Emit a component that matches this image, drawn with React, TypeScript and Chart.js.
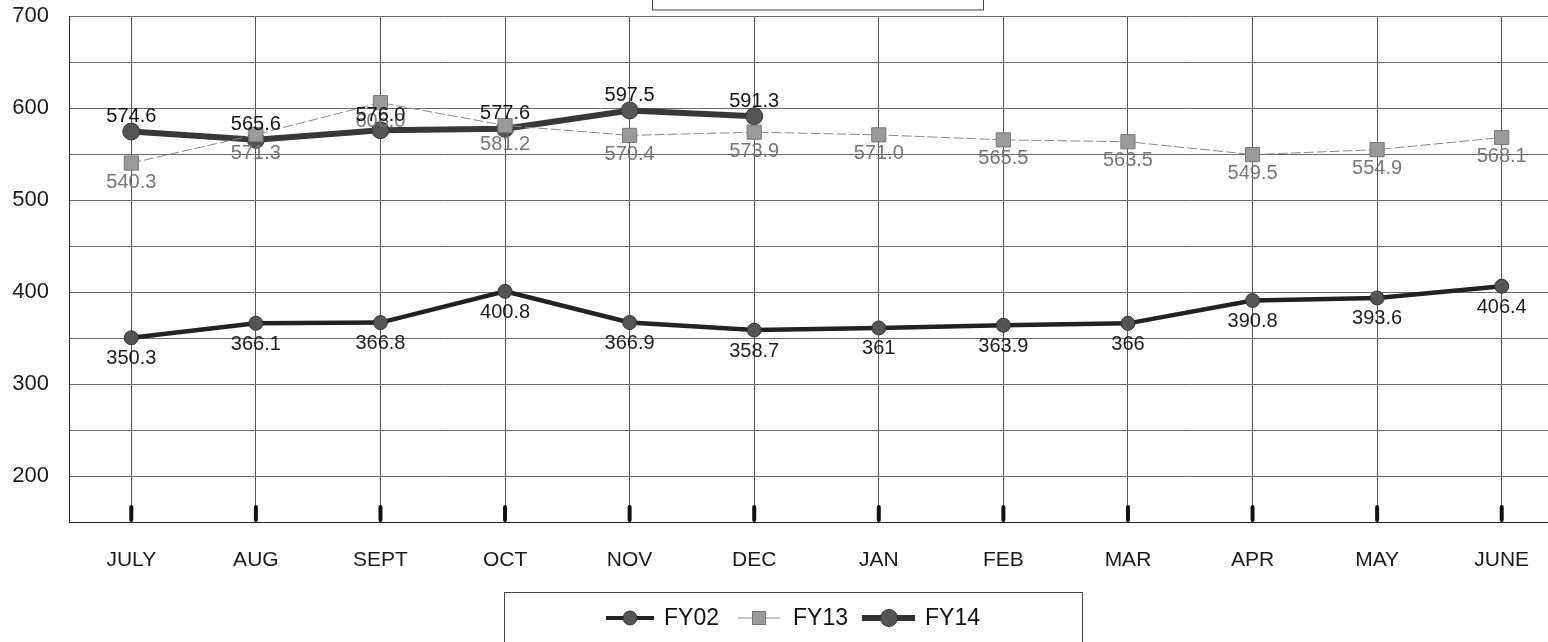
import React, { useEffect, useRef } from "react";
import { Chart, registerables } from "chart.js";

Chart.register(...registerables);

const months = ["JULY", "AUG", "SEPT", "OCT", "NOV", "DEC", "JAN", "FEB", "MAR", "APR", "MAY", "JUNE"];
const fy02 = [350.3, 366.1, 366.8, 400.8, 366.9, 358.7, 361, 363.9, 366, 390.8, 393.6, 406.4];
const fy13 = [540.3, 571.3, 606.0, 581.2, 570.4, 573.9, 571.0, 565.5, 563.5, 549.5, 554.9, 568.1];
const fy14 = [574.6, 565.6, 576.0, 577.6, 597.5, 591.3, null, null, null, null, null, null];
const seriesNames = ["FY02", "FY13", "FY14"];
const yTickLabels = [200, 300, 400, 500, 600, 700];

const FONT = "'Liberation Sans', Arial, Helvetica, sans-serif";

const SHIFT = 17;
const W = 1575;
const H = 642 + SHIFT;

const labelPlugin = {
  id: "valueLabels",
  afterDatasetsDraw(chart: any) {
    const ctx = chart.ctx;
    ctx.save();
    ctx.textAlign = "center";
    ctx.textBaseline = "middle";
    const cfg = [
      { dy: 21, color: "#1e1e1e", fmt: (v: number) => String(v) },
      { dy: 19, color: "#777", fmt: (v: number) => v.toFixed(1) },
      { dy: -15, color: "#141414", fmt: (v: number) => v.toFixed(1) },
    ];
    chart.data.datasets.forEach((ds: any, i: number) => {
      const meta = chart.getDatasetMeta(i);
      const c = cfg[i];
      ctx.fillStyle = c.color;
      ctx.font = `20px ${FONT}`;
      meta.data.forEach((pt: any, j: number) => {
        const v = ds.data[j];
        if (v === null || v === undefined) return;
        ctx.fillText(c.fmt(v), pt.x, pt.y + c.dy);
      });
    });
    ctx.restore();
  },
};

const decorPlugin = {
  id: "decor",
  beforeDatasetsDraw(chart: any) {
    const ctx = chart.ctx;
    const x = chart.scales.x;
    const area = chart.chartArea;
    ctx.save();
    ctx.strokeStyle = "#111";
    ctx.lineWidth = 4;
    ctx.lineCap = "round";
    for (let i = 0; i < months.length; i++) {
      const px = x.getPixelForTick(i);
      ctx.beginPath();
      ctx.moveTo(px, area.bottom - 15);
      ctx.lineTo(px, area.bottom - 2);
      ctx.stroke();
    }
    ctx.restore();
  },
  afterDraw(chart: any) {
    const ctx = chart.ctx;
    ctx.save();
    ctx.translate(0, SHIFT);
    // top empty box (cropped)
    ctx.strokeStyle = "#444";
    ctx.lineWidth = 1;
    ctx.strokeRect(652.5, -2, 331, 12);
    // legend box
    ctx.strokeRect(504.5, 592.5, 578, 100);
    const ly = 618;
    const items = [
      { x0: 606, x1: 654, mx: 630, lw: 4, lc: "#222", shape: "circle", r: 7, fill: "#555", stroke: "#333", tx: 664 },
      { x0: 738, x1: 780, mx: 759, lw: 1, lc: "#888", shape: "rect", r: 7, fill: "#9a9a9a", stroke: "#777", tx: 793 },
      { x0: 862, x1: 915, mx: 889, lw: 6, lc: "#333", shape: "circle", r: 8.5, fill: "#555", stroke: "#333", tx: 925 },
    ];
    items.forEach((it, i) => {
      ctx.strokeStyle = it.lc;
      ctx.lineWidth = it.lw;
      ctx.beginPath();
      ctx.moveTo(it.x0, ly);
      ctx.lineTo(it.x1, ly);
      ctx.stroke();
      ctx.fillStyle = it.fill;
      ctx.strokeStyle = it.stroke;
      ctx.lineWidth = 1;
      if (it.shape === "circle") {
        ctx.beginPath();
        ctx.arc(it.mx, ly, it.r, 0, Math.PI * 2);
        ctx.fill();
        ctx.stroke();
      } else {
        ctx.fillRect(it.mx - it.r, ly - it.r, it.r * 2, it.r * 2);
        ctx.strokeRect(it.mx - it.r + 0.5, ly - it.r + 0.5, it.r * 2 - 1, it.r * 2 - 1);
      }
      ctx.fillStyle = "#111";
      ctx.font = `23px ${FONT}`;
      ctx.textAlign = "left";
      ctx.textBaseline = "middle";
      ctx.fillText(seriesNames[i], it.tx, ly + 1);
    });
    ctx.restore();
  },
};

export default function App() {
  const ref = useRef<HTMLCanvasElement | null>(null);

  useEffect(() => {
    if (!ref.current) return;
    const chart = new Chart(ref.current, {
      type: "line",
      data: {
        labels: months,
        datasets: [
          {
            label: seriesNames[0],
            data: fy02,
            borderColor: "#222",
            borderWidth: 4.5,
            pointRadius: 7,
            pointBackgroundColor: "#555",
            pointBorderColor: "#333",
            pointBorderWidth: 1,
            tension: 0,
          },
          {
            label: seriesNames[1],
            data: fy13,
            borderColor: "#8a8a8a",
            borderWidth: 1,
            borderDash: [10, 3],
            pointStyle: "rect",
            pointRadius: 10,
            pointBackgroundColor: "#9a9a9a",
            pointBorderColor: "#777",
            pointBorderWidth: 1,
            tension: 0,
          },
          {
            label: seriesNames[2],
            data: fy14,
            borderColor: "#383838",
            borderWidth: 6,
            pointRadius: 8.5,
            pointBackgroundColor: "#555",
            pointBorderColor: "#333",
            pointBorderWidth: 1,
            tension: 0,
            spanGaps: false,
          },
        ],
      },
      options: {
        responsive: false,
        animation: false,
        layout: { padding: { top: 0, left: 0, right: 0, bottom: 0 } },
        plugins: {
          legend: { display: false },
          tooltip: { enabled: false },
          title: { display: false },
        },
        scales: {
          x: {
            offset: true,
            grid: { offset: false, color: "#555", lineWidth: 1, drawTicks: false },
            border: { display: true, color: "#222", width: 1 },
            ticks: {
              padding: 26,
              color: "#1a1a1a",
              font: { family: FONT, size: 21 },
              maxRotation: 0,
              autoSkip: false,
            },
            afterFit: (s: any) => {
              s.height = 120;
            },
          },
          y: {
            min: 150,
            max: 700,
            grid: { color: "#6a6a6a", lineWidth: 1, drawTicks: false },
            border: { display: true, color: "#222", width: 1 },
            ticks: {
              stepSize: 50,
              padding: 20,
              color: "#1a1a1a",
              font: { family: FONT, size: 22 },
              callback: (v: any) => (yTickLabels.includes(Number(v)) ? String(v) : ""),
            },
            afterFit: (s: any) => {
              s.width = 69;
            },
          },
        },
      },
      plugins: [decorPlugin, labelPlugin],
    });
    return () => chart.destroy();
  }, []);

  return (
    <div style={{ position: "fixed", left: 0, top: -SHIFT, width: W, height: H, background: "#fff" }}>
      <canvas ref={ref} width={W} height={H} style={{ display: "block" }} />
    </div>
  );
}
